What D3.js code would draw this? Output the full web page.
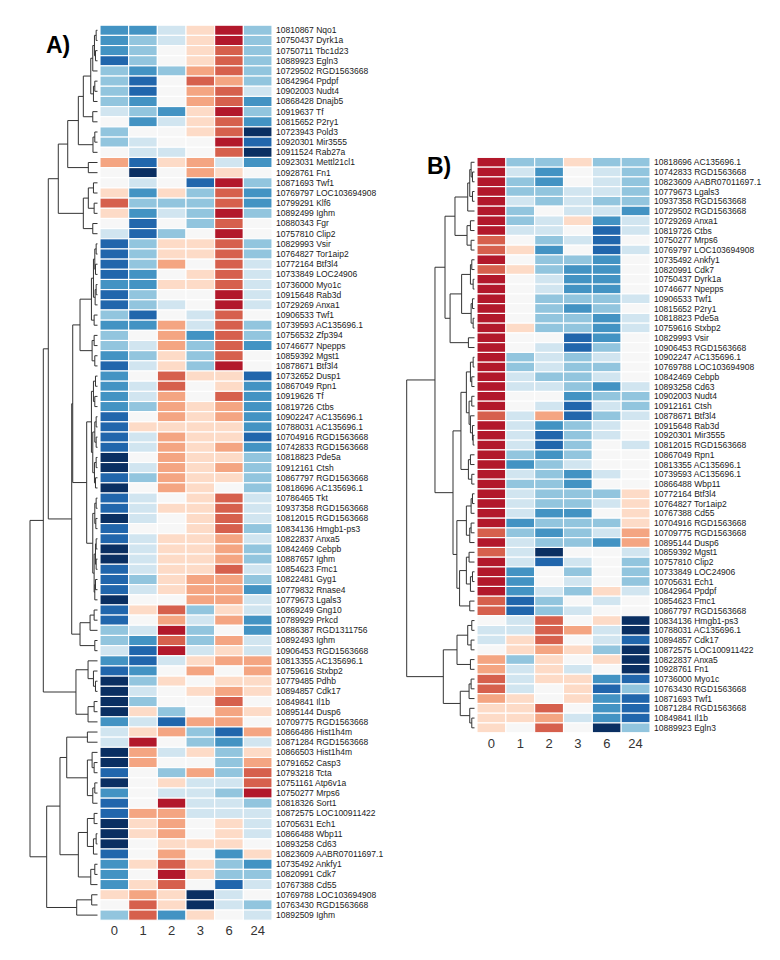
<!DOCTYPE html>
<html><head><meta charset="utf-8">
<script src="https://cdn.jsdelivr.net/npm/d3@7"></script>
<style>body{margin:0;background:#fff} svg{display:block}</style>
</head><body>
<svg id="chart" width="780" height="960"></svg>
<script>
// ---------- data ----------
const timepoints = ["0","1","2","3","6","24"];

const labelsA = ["10810867 Nqo1","10750437 Dyrk1a","10750711 Tbc1d23","10889923 Egln3","10729502 RGD1563668","10842964 Ppdpf","10902003 Nudt4","10868428 Dnajb5","10919637 Tf","10815652 P2ry1","10723943 Pold3","10920301 Mir3555","10911524 Rab27a","10923031 Mettl21cl1","10928761 Fn1","10871693 Twf1","10769797 LOC103694908","10799291 Klf6","10892499 Ighm","10880343 Fgr","10757810 Clip2","10829993 Vsir","10764827 Tor1aip2","10772164 Btf3l4","10733849 LOC24906","10736000 Myo1c","10915648 Rab3d","10729269 Anxa1","10906533 Twf1","10739593 AC135696.1","10756532 Zfp394","10746677 Npepps","10859392 Mgst1","10878671 Btf3l4","10732652 Dusp1","10867049 Rpn1","10919626 Tf","10819726 Ctbs","10902247 AC135696.1","10788031 AC135696.1","10704916 RGD1563668","10742833 RGD1563668","10818823 Pde5a","10912161 Ctsh","10867797 RGD1563668","10818696 AC135696.1","10786465 Tkt","10937358 RGD1563668","10812015 RGD1563668","10834136 Hmgb1-ps3","10822837 Anxa5","10842469 Cebpb","10887657 Ighm","10854623 Fmc1","10822481 Gyg1","10779832 Rnase4","10779673 Lgals3","10869249 Gng10","10789929 Prkcd","10886387 RGD1311756","10892493 Ighm","10906453 RGD1563668","10813355 AC135696.1","10759616 Stxbp2","10779485 Pdhb","10894857 Cdk17","10849841 Il1b","10895144 Dusp6","10709775 RGD1563668","10866486 Hist1h4m","10871284 RGD1563668","10866503 Hist1h4m","10791652 Casp3","10793218 Tcta","10751161 Atp6v1a","10750277 Mrps6","10818326 Sort1","10872575 LOC100911422","10705631 Ech1","10866488 Wbp11","10893258 Cd63","10823609 AABR07011697.1","10735492 Ankfy1","10820991 Cdk7","10767388 Cd55","10769788 LOC103694908","10763430 RGD1563668","10892509 Ighm"];

const valuesA = [
[-1.3,-1.3,-0.4,0.4,2.2,-0.8],[-1.3,-0.8,-0.4,0.4,2.2,-0.8],[-1.3,-0.8,0,0.4,1.5,-0.8],[-1.8,-0.8,0,0.4,1.5,-0.8],
[-0.8,-1.3,-0.8,0.9,1.5,-0.8],[-0.8,-1.8,0,1.5,0.9,-0.8],[-0.8,-1.8,0,0.9,1.5,-0.4],[-0.8,-1.3,0,0.9,1.5,-1.3],
[-0.4,-0.8,-1.3,0.4,2.2,-0.8],[0,-1.3,-0.4,0.4,1.5,-1.3],[-0.8,0,0,0.4,1.5,-2.4],[-0.8,-0.4,0,0,2.2,-1.8],
[0,-0.4,-0.4,0,1.5,-2.4],[0.9,-1.8,0.4,0.9,-0.4,-1.3],[0,-2.4,0,0.9,0.4,0],[0,-0.4,0,-1.8,2.2,-0.8],
[0.4,-1.3,0.4,-0.8,1.5,-1.3],[1.5,-0.8,-0.8,-0.8,1.5,-1.3],[0.4,-1.3,-0.4,-0.8,2.2,-0.8],[0,-1.8,0,-0.8,1.5,0],
[-0.4,-1.8,-0.8,0,2.2,0],[-1.8,-0.8,0.4,0.4,1.5,-0.8],[-1.8,-0.8,0.4,0.4,1.5,-0.8],[-1.8,-0.8,0.9,0,1.5,-0.4],
[-1.8,-1.3,0,0.4,1.5,-0.4],[-1.3,-1.3,0.4,0.4,1.5,-0.4],[-1.8,-0.8,0,0,2.2,-0.4],[-1.8,-0.8,-0.4,0,2.2,-0.4],
[-0.8,-1.8,0,-0.4,1.5,0],[-1.3,-1.3,0.9,-0.4,1.5,-0.8],[-0.8,0,0.9,-1.3,1.5,-0.8],[-0.8,-0.4,0.9,-0.8,1.5,-1.3],
[-1.3,-0.8,0.4,-0.8,1.5,0],[-1.8,-0.4,0.4,-0.8,2.2,0],[-1.3,0,1.5,0.4,0.4,-1.8],[-1.3,-0.4,1.5,0,0.4,-1.3],
[-1.3,-0.4,0.9,0,1.5,-1.3],[-1.3,-0.8,0.9,0.4,0.9,-1.3],[-1.8,0,0.9,0.4,0.9,-1.3],[-1.8,0.4,0.4,0.4,0.4,-1.3],
[-1.8,-0.4,0.9,0.4,0.4,-1.8],[-1.8,-0.4,0.9,0.4,0.9,-1.3],[-2.4,0,0.9,0.4,0.4,-0.8],[-2.4,-0.4,0.9,0.4,0.9,-0.8],
[-1.8,-0.8,0.9,0.4,0.4,-0.8],[-2.4,0,0.9,0.4,0,-0.8],[-1.8,-0.4,0,0.4,1.5,-0.4],[-1.8,-0.4,0.4,0.4,1.5,-0.4],
[-2.4,-0.4,0,0.4,1.5,-0.4],[-1.8,0,0,0.4,1.5,-0.8],[-1.8,-0.4,0.4,0.4,0.9,-0.4],[-2.4,-0.4,0.4,0.4,0.9,-0.8],
[-2.4,-0.4,0.4,0.4,0.9,-0.8],[-1.8,-0.4,0.4,0.4,1.5,-0.4],[-1.8,-0.8,0.4,0.9,0.9,-0.8],[-1.8,-0.4,0.4,0.9,0.9,-1.3],
[-2.4,0,0,0.9,0.9,-0.4],[-1.8,0.4,1.5,-0.8,0.4,-0.4],[-1.8,0,0.9,-0.4,0.9,-1.3],[-0.8,-0.4,2.2,-0.8,0,-1.3],
[-0.8,-1.3,1.5,-0.8,0.9,-0.4],[-0.4,-1.8,2.2,-0.4,0.4,-0.4],[-1.3,-1.8,-0.4,0.4,0.9,0.9],[-1.8,-1.3,0,0.9,0,0.9],
[-2.4,-0.8,0.4,0,0.4,0.4],[-2.4,-0.4,0,0.4,0.9,0.4],[-2.4,-0.8,0,0,1.5,0],[-2.4,0.4,-0.8,0,0.9,0.4],
[-1.3,-0.4,-1.8,0.9,0.9,0],[-0.4,0.4,0.9,-0.8,-1.8,0.9],[-0.4,2.2,0,-0.8,-1.3,-0.4],[-2.4,0.9,-0.4,0.4,-0.8,0.4],
[-2.4,0.9,0,0,-0.8,0.9],[-1.8,0,-0.8,0.9,-0.8,1.5],[-2.4,0,0.4,-0.4,-0.4,1.5],[-1.3,0,-0.4,-0.4,-0.8,2.2],
[-1.8,0,2.2,-0.4,-0.4,-0.8],[-1.8,0.9,0.9,-0.4,-0.4,-0.4],[-2.4,0.4,0.9,0,0.4,-0.4],[-2.4,0.4,0.9,0,0.4,-0.4],
[-2.4,0,0.4,0.4,0.4,0],[-1.8,0,0.9,0,-1.3,0.4],[-1.3,0.4,1.5,0.4,-0.8,-1.3],[-1.3,0,2.2,0.4,-0.8,-0.8],
[-1.3,0.4,1.5,0,-1.8,-0.4],[0.4,0.9,0.4,-2.4,-0.4,0],[0,1.5,0.4,-2.4,-0.4,-0.8],[-0.8,1.5,-1.3,0.4,0,-0.4]
];

// dendrogram A: [left, right, mergeHeight] ; leaves are row indices
const treeA = [
  [
    [
      [
        [
          [
            [[[[[0,1,0.02],[2,3,0.03],0.045],4,0.07],[[5,6,0.04],7,0.06],0.10],[8,9,0.07],0.21],
            [[10,11,0.04],12,0.067],0.284],
          [13,14,0.136],0.441],
        [[[15,16,0.06],[17,18,0.05],0.136],[19,20,0.07],0.21],0.581],
      [
        [
          [
            [[[[21,22,0.02],[23,24,0.03],0.04],[[25,26,0.02],27,0.035],0.06],[28,29,0.05],0.09],
            [[30,31,0.05],[32,33,0.04],0.08],0.259],
          [
            [[[34,35,0.03],[36,37,0.04],0.06],[[[38,39,0.02],[40,41,0.02],0.04],[[42,43,0.02],[44,45,0.03],0.045],0.07],0.09],
            [[[46,47,0.02],[48,49,0.025],0.04],[[[50,51,0.02],[52,53,0.02],0.03],[[54,55,0.03],56,0.04],0.05],0.07],0.16],0.367],
        [[[57,58,0.05],59,0.11],[60,61,0.04],0.259],0.382],0.729],
    [[62,[63,[64,65,0.03],0.06],0.14],[[66,67,0.05],68,0.14],0.319],0.803],
  [
    [
      [[69,70,0.15],[[71,[72,73,0.05],0.08],[[74,75,0.04],76,0.07],0.15],0.456],
      [[[77,78,0.05],[[79,80,0.02],81,0.06],0.15],[[82,83,0.04],84,0.1],0.284],0.556],
    [[85,86,0.086],87,0.308],0.753],
  1.0];

const labelsB = ["10818696 AC135696.1","10742833 RGD1563668","10823609 AABR07011697.1","10779673 Lgals3","10937358 RGD1563668","10729502 RGD1563668","10729269 Anxa1","10819726 Ctbs","10750277 Mrps6","10769797 LOC103694908","10735492 Ankfy1","10820991 Cdk7","10750437 Dyrk1a","10746677 Npepps","10906533 Twf1","10815652 P2ry1","10818823 Pde5a","10759616 Stxbp2","10829993 Vsir","10906453 RGD1563668","10902247 AC135696.1","10769788 LOC103694908","10842469 Cebpb","10893258 Cd63","10902003 Nudt4","10912161 Ctsh","10878671 Btf3l4","10915648 Rab3d","10920301 Mir3555","10812015 RGD1563668","10867049 Rpn1","10813355 AC135696.1","10739593 AC135696.1","10866488 Wbp11","10772164 Btf3l4","10764827 Tor1aip2","10767388 Cd55","10704916 RGD1563668","10709775 RGD1563668","10895144 Dusp6","10859392 Mgst1","10757810 Clip2","10733849 LOC24906","10705631 Ech1","10842964 Ppdpf","10854623 Fmc1","10867797 RGD1563668","10834136 Hmgb1-ps3","10788031 AC135696.1","10894857 Cdk17","10872575 LOC100911422","10822837 Anxa5","10928761 Fn1","10736000 Myo1c","10763430 RGD1563668","10871693 Twf1","10871284 RGD1563668","10849841 Il1b","10889923 Egln3"];

const valuesB = [
[2.2,-0.8,-0.8,0.4,-0.8,-0.8],[2.2,-0.4,-1.3,0,-0.4,-0.8],[2.2,-0.8,-1.3,0,-0.4,-0.8],[2.2,-0.8,-0.8,-0.4,-0.4,-0.8],
[2.2,-0.4,-0.8,-0.4,-0.8,-0.8],[2.2,-0.8,0,-0.4,-0.4,-1.3],[2.2,-0.8,-0.4,0.4,-1.3,-0.4],[2.2,-0.4,-0.4,0,-1.8,-0.4],
[1.5,0,-0.8,-0.4,-1.8,0],[1.5,0.4,-1.3,0,-1.8,-0.4],[2.2,0,-0.8,-0.8,-1.3,0],[1.5,0.4,-0.8,-1.3,-1.3,0],
[2.2,0,-0.4,-1.3,-1.3,0],[2.2,0,-0.4,-1.3,-1.3,0],[2.2,0,-0.8,-0.8,-0.8,-0.4],[2.2,0,-0.8,-1.3,-0.8,0],
[2.2,0,-0.8,-0.8,-1.3,-0.4],[2.2,0.4,-0.8,-0.8,-1.3,-0.4],[2.2,0,0,-1.8,-1.3,0],[2.2,0,-0.4,-1.8,-0.8,0],
[2.2,-0.8,-0.4,-0.8,-0.4,0],[2.2,-0.8,-0.4,-0.8,-0.8,0],[2.2,-0.4,-0.8,-0.8,-0.4,0],[2.2,-0.4,-0.4,-0.8,-1.3,-0.4],
[2.2,0,0,-1.3,-0.8,-0.8],[2.2,0,-0.4,-1.8,-0.4,-0.8],[1.5,-0.4,0.9,-1.8,-0.8,-0.4],[2.2,-0.4,-1.3,-0.8,-0.4,0],
[2.2,-0.4,-1.8,-0.8,-0.4,0],[2.2,-0.4,-1.8,-0.8,0,-0.4],[2.2,-0.8,-1.3,-0.8,0,0],[2.2,-1.3,-0.8,-0.4,0,0],
[2.2,-0.4,-0.8,-1.3,-0.4,0],[2.2,-0.8,-0.8,-1.3,0,0],[2.2,-0.4,-0.8,-0.8,-0.8,0.4],[2.2,-0.4,-0.8,-0.8,-0.4,0.4],
[2.2,-0.4,-1.3,-1.3,0,0.4],[2.2,-1.3,-0.8,-0.8,-0.8,0.4],[1.5,-0.8,-1.3,-0.8,-0.4,0.9],[2.2,-0.4,-0.8,-0.8,-1.3,0.9],
[1.5,-0.4,-2.4,0,0,-0.4],[2.2,-0.4,-1.8,-0.4,0,-0.8],[2.2,-1.3,0,-0.8,0,-0.8],[2.2,-1.3,0,-0.4,0,-0.8],
[2.2,-1.3,-0.4,-0.8,0.4,-0.4],[1.5,-1.8,-0.8,0,-0.4,0],[1.5,-1.8,-0.8,-0.4,0,0],[0,-0.4,1.5,0,0.4,-2.4],
[-0.4,-0.4,1.5,0.9,-0.4,-2.4],[-0.4,0.4,1.5,0,-0.4,-1.8],[0,0.4,0.9,0.4,-0.8,-2.4],[0.9,-0.8,0.4,0,0.4,-2.4],
[0.9,-0.4,0.4,-0.4,0,-2.4],[1.5,-0.4,0.4,0.4,-1.3,-1.8],[1.5,-0.4,0,0.4,-1.8,-0.8],[0.9,0.4,0,0.4,-1.3,-1.8],
[0.4,0.4,1.5,0,-1.3,-1.8],[0.4,0.4,0.9,-0.4,-1.3,-1.8],[0.4,0,1.5,0,-2.4,-0.8]
];

const treeB = [
  [
    [
      [[[[0,[1,2,0.03],0.05],[3,4,0.03],0.07],5,0.1],[[6,7,0.06],[8,9,0.05],0.11],0.288],
      [[[[10,11,0.04],[12,13,0.02],0.06],[[14,15,0.03],[16,17,0.02],0.05],0.19],[18,19,0.09],0.36],0.435],
    [
      [[[[20,21,0.02],[22,23,0.04],0.06],[[24,25,0.04],[26,[27,[28,29,0.02],0.03],0.06],0.08],0.12],[[30,31,0.06],[32,33,0.04],0.09],0.2],
      [[[[34,35,0.03],36,0.05],[[37,38,0.05],39,0.07],0.12],[[[40,41,0.08],[[42,43,0.03],44,0.06],0.12],[45,46,0.07],0.22],0.26],0.317],0.583],
  [
    [[[47,48,0.04],[49,50,0.05],0.1],[51,52,0.06],0.258],
    [[[53,54,0.05],55,0.08],[56,[57,58,0.04],0.07],0.21],0.46],
  1.0];

// colour stops (RdBu)
const colorStops = [-2.4,-1.8,-1.3,-0.8,-0.4,0,0.4,0.9,1.5,2.2];
const colorHex = ["#0a2f62","#2166ac","#4393c3","#92c5de","#d1e5f0","#f7f7f7","#fddbc7","#f4a582","#d6604d","#b2182b"];

// ---------- drawing ----------
const svg = d3.select("#chart");
const color = d3.scaleLinear().domain(colorStops).range(colorHex).clamp(true);

function drawPanel(cfg) {
  const g = svg.append("g");
  const x = d3.scaleBand().domain(timepoints).range([cfg.left, cfg.right]);
  const y = d3.scaleBand().domain(d3.range(cfg.labels.length)).range([cfg.top, cfg.bottom]);
  const cells = [];
  cfg.values.forEach((row, i) => row.forEach((v, j) => cells.push({i, j, v})));
  g.selectAll("rect.cell").data(cells).join("rect")
    .attr("class", "cell")
    .attr("x", d => x(timepoints[d.j]))
    .attr("y", d => y(d.i))
    .attr("width", x.bandwidth())
    .attr("height", y.bandwidth())
    .attr("fill", d => color(d.v))
    .attr("stroke", "#fff").attr("stroke-width", 1.1);

  g.selectAll("text.rl").data(cfg.labels).join("text")
    .attr("class", "rl")
    .attr("x", cfg.right + 4)
    .attr("y", (d, i) => y(i) + y.bandwidth() / 2)
    .attr("dy", "0.35em")
    .style("font", "8.5px 'Liberation Sans', Arial, sans-serif")
    .attr("fill", "#1a1a1a")
    .text(d => d);

  const ax = g.append("g").attr("transform", `translate(0,${cfg.bottom})`)
    .call(d3.axisBottom(x).tickSize(0).tickPadding(6));
  ax.select(".domain").remove();
  ax.selectAll("text").style("font", "13px 'Liberation Sans', Arial, sans-serif").attr("fill", "#333");

  const hx = d3.scaleLinear().domain([0, 1]).range([cfg.left - 2.5, cfg.dendroRoot]);
  const dg = g.append("g").attr("fill", "none").attr("stroke", "#333").attr("stroke-width", 1);
  function layout(node) {
    if (typeof node === "number") return {x: hx(0), y: y(node) + y.bandwidth() / 2};
    const a = layout(node[0]), b = layout(node[1]);
    const xx = hx(node[2]);
    dg.append("path").attr("d", `M${a.x},${a.y}H${xx}V${b.y}H${b.x}`);
    return {x: xx, y: (a.y + b.y) / 2};
  }
  layout(cfg.tree);

  svg.append("text").attr("x", cfg.titleX).attr("y", cfg.titleY)
    .style("font", "bold 23px 'Liberation Sans', Arial, sans-serif")
    .attr("fill", "#000").text(cfg.title);
}

drawPanel({labels: labelsA, values: valuesA, tree: treeA, left: 100, right: 272, top: 25.2, bottom: 920.2, dendroRoot: 30, title: "A)", titleX: 46, titleY: 53});
drawPanel({labels: labelsB, values: valuesB, tree: treeB, left: 477, right: 650, top: 157.4, bottom: 732.7, dendroRoot: 406.7, title: "B)", titleX: 427, titleY: 174});
</script>
</body></html>
